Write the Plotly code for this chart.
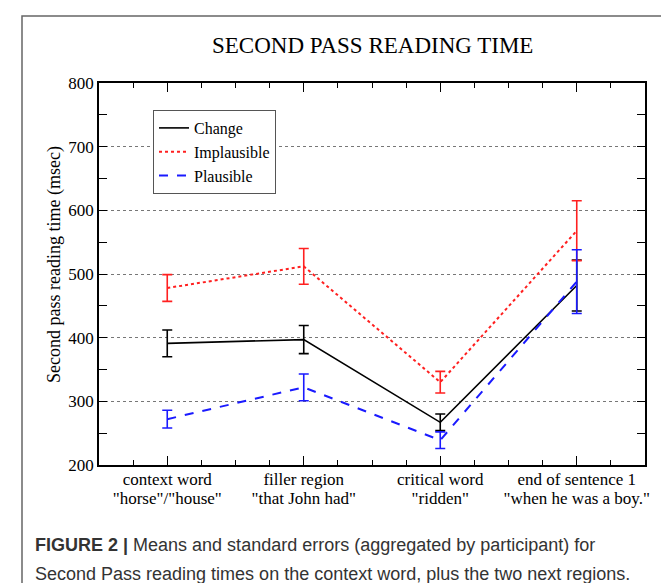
import plotly.graph_objects as go

categories = ["context word", "filler region", "critical word", "end of sentence 1"]
category_words = ['"horse"/"house"', '"that John had"', '"ridden"', '"when he was a boy."']
change_mean = [391, 397, 267, 482]
change_se = [21, 22, 13, 40]
impl_mean = [478, 512, 330, 568]
impl_se = [21, 28, 17, 47]
plaus_mean = [272, 322, 239, 488]
plaus_se = [14, 21, 13, 50]
yticks = [200, 300, 400, 500, 600, 700, 800]

xs = list(range(len(categories)))
SERIF = "Liberation Serif, Times New Roman, serif"
SANS = "Liberation Sans, Arial, sans-serif"

fig = go.Figure()

def add(name, mean, se, color, dash, width):
    fig.add_trace(go.Scatter(
        x=xs, y=mean, name=name, mode="lines",
        line=dict(color=color, dash=dash, width=width),
        error_y=dict(type="data", array=se, visible=True, color=color, thickness=1.6, width=5),
    ))

add("Change", change_mean, change_se, "black", "solid", 1.6)
add("Implausible", impl_mean, impl_se, "#ff2020", "dot", 2)
add("Plausible", plaus_mean, plaus_se, "#1a1aff", "dash", 2)
# empty helper trace so the second label row axis is drawn
fig.add_trace(go.Scatter(x=[], y=[], xaxis="x2", yaxis="y", showlegend=False, hoverinfo="skip"))

W, H = 669, 583
L, R, T, B = 91, 637, 75, 457
pw, ph = R - L, B - T

def px(x):
    return (x - L) / pw

def py(y):
    return (B - y) / ph

fig.update_layout(
    width=W, height=H,
    margin=dict(l=L, r=W - R, t=T, b=H - B),
    plot_bgcolor="white", paper_bgcolor="white",
    showlegend=True,
    legend=dict(x=px(145), y=py(102), xanchor="left", yanchor="top",
                bordercolor="#555", borderwidth=1, bgcolor="white",
                font=dict(family=SERIF, size=16, color="black"),
                tracegroupgap=0, itemwidth=30),
    font=dict(family=SERIF, color="black"),
    xaxis=dict(
        range=[-0.5, 3.5], tickvals=xs, ticktext=categories,
        ticks="inside", ticklen=9, tickwidth=1.2, tickcolor="black",
        showline=True, linecolor="black", linewidth=1.5, mirror="ticks",
        showgrid=False, zeroline=False, ticklabelstandoff=-2,
        tickfont=dict(family=SERIF, size=17, color="black"),
        minor=dict(dtick=0.25, tick0=-0.5, ticks="inside", ticklen=5, tickcolor="black",
                   tickwidth=1.2, showgrid=False),
    ),
    xaxis2=dict(
        range=[-0.5, 3.5], tickvals=xs, ticktext=category_words,
        overlaying="x", side="bottom", anchor="y", matches="x",
        ticks="", showline=False, showgrid=False, zeroline=False,
        ticklabelstandoff=21,
        tickfont=dict(family=SERIF, size=17, color="black"),
    ),
    yaxis=dict(
        range=[200, 800], tickvals=yticks,
        ticks="inside", ticklen=8, tickwidth=1.2, tickcolor="black",
        showline=True, linecolor="black", linewidth=1.5, mirror="ticks",
        showgrid=True, gridcolor="#777", griddash="dot", gridwidth=1,
        zeroline=False,
        tickfont=dict(family=SERIF, size=17, color="black"),
        minor=dict(dtick=50, tick0=200, ticks="inside", ticklen=8, tickcolor="black",
                   tickwidth=1.2, showgrid=False),
    ),
)

# title
fig.add_annotation(text="SECOND PASS READING TIME", xref="paper", yref="paper",
                   x=px(364), y=py(37), xanchor="center", yanchor="middle",
                   showarrow=False, font=dict(family=SERIF, size=23, color="black"))
# y label
fig.add_annotation(text="Second pass reading time (msec)", xref="paper", yref="paper",
                   x=px(46), y=py(257), xanchor="center", yanchor="middle", textangle=-90,
                   showarrow=False, font=dict(family=SERIF, size=18, color="black"))
# caption
fig.add_annotation(text="<b>FIGURE 2 |</b> Means and standard errors (aggregated by participant) for",
                   xref="paper", yref="paper", x=px(25), y=py(537), xanchor="left", yanchor="middle",
                   showarrow=False, font=dict(family=SANS, size=18, color="#333"))
fig.add_annotation(text="Second Pass reading times on the context word, plus the two next regions.",
                   xref="paper", yref="paper", x=px(25), y=py(566), xanchor="left", yanchor="middle",
                   showarrow=False, font=dict(family=SANS, size=18, color="#333"))

# outer frame
fig.add_shape(type="rect", xref="paper", yref="paper",
              x0=px(14), x1=px(667), y0=py(600), y1=py(8),
              line=dict(color="#666", width=1.5), layer="below")

fig.write_html("out.html")
